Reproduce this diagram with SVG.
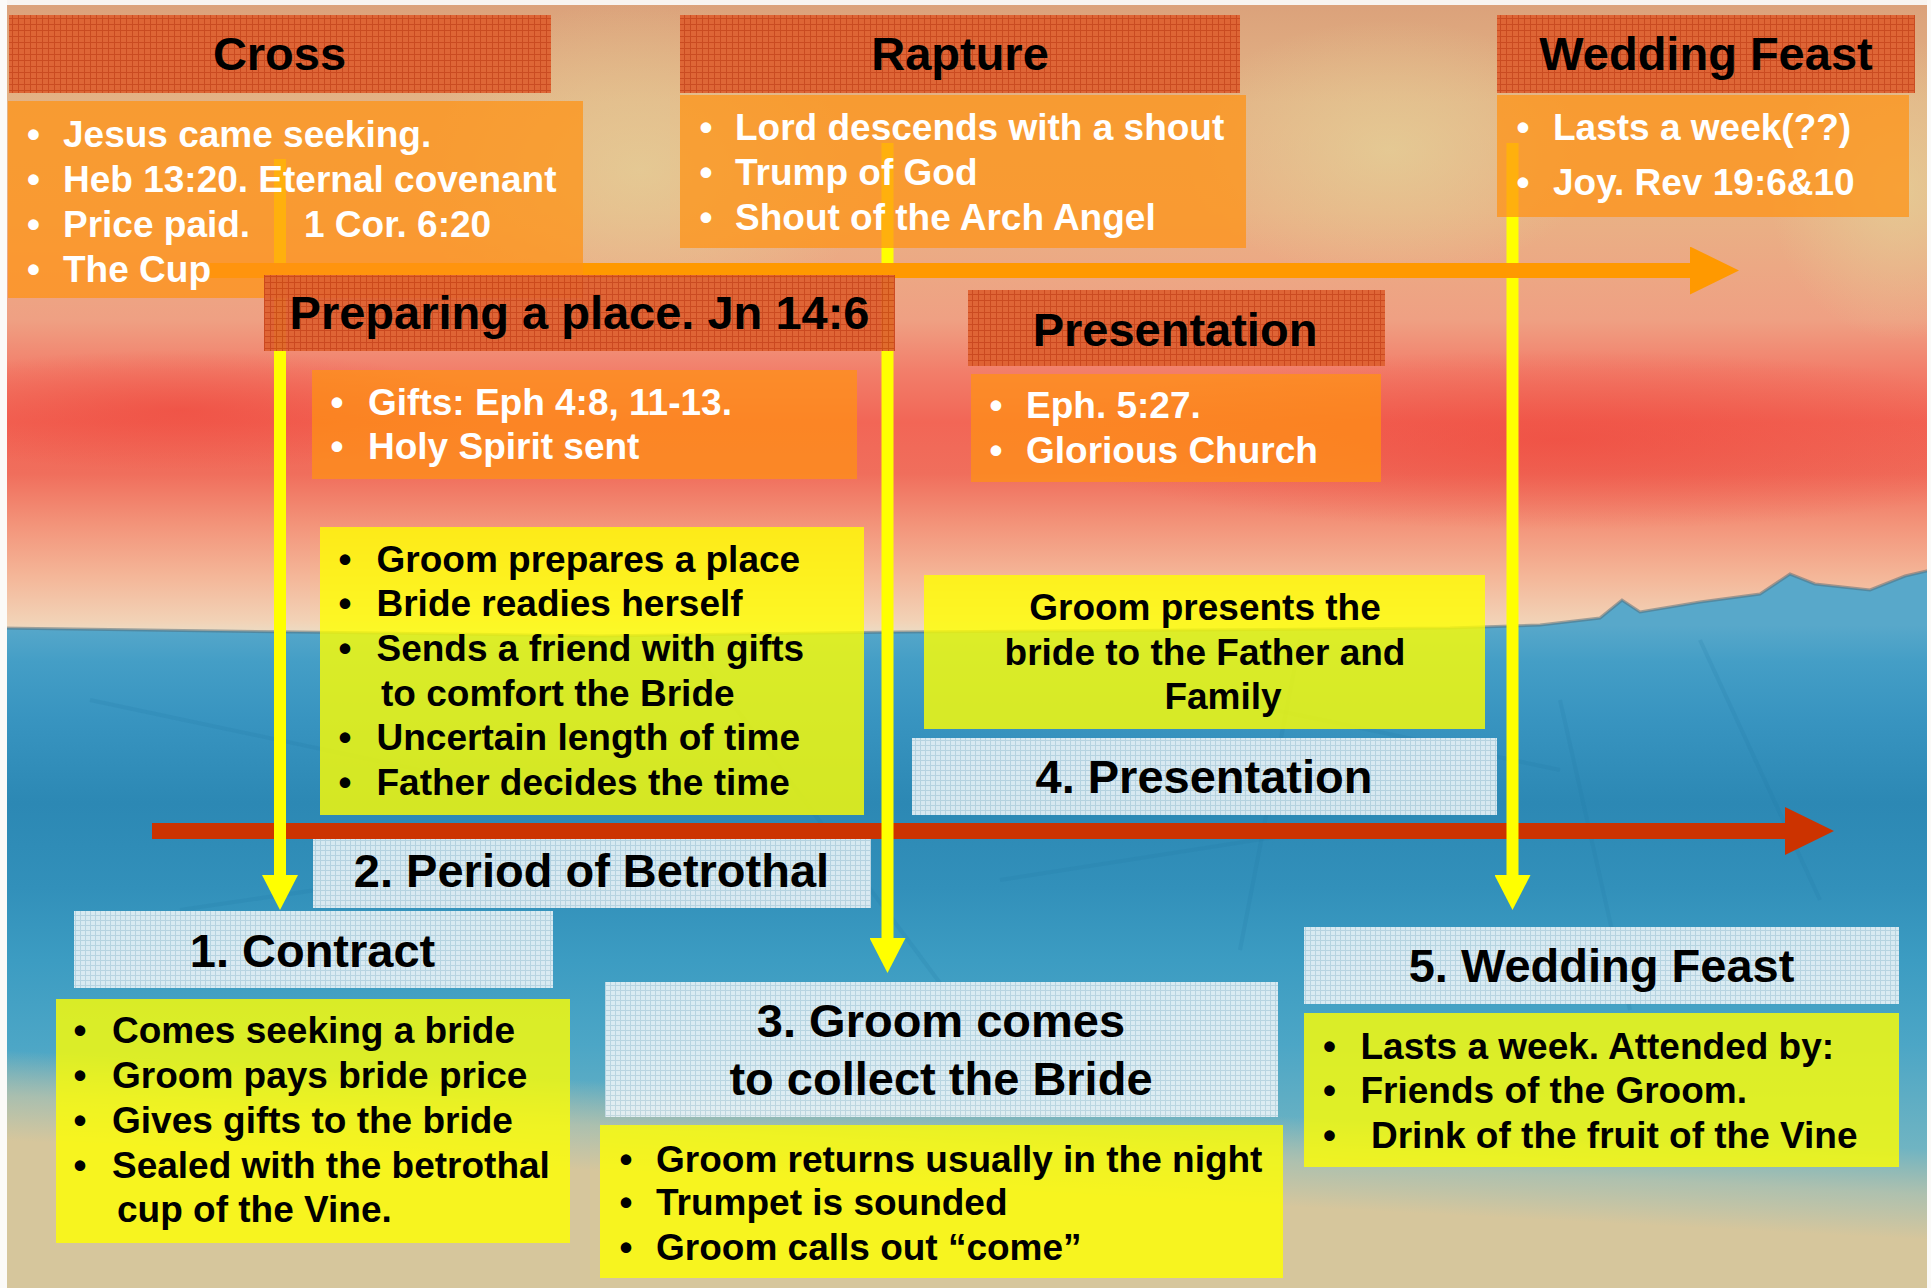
<svg xmlns="http://www.w3.org/2000/svg" width="1931" height="1288" viewBox="0 0 1931 1288">
<defs>
<style>
.t{font-family:"Liberation Sans",Arial,Helvetica,sans-serif;font-weight:bold}
.h{font-size:47px;text-anchor:middle;fill:#000}
.w{font-size:37px;fill:#fff}
.k{font-size:37px;fill:#000}
.kc{font-size:37px;fill:#000;text-anchor:middle}
.hdr{fill:url(#pHdr);opacity:.93}
.obox{fill:#FF9212;fill-opacity:.72}
.ybox{fill:#FFFF00;fill-opacity:.8}
.lbox{fill:url(#pLbl);opacity:.9}
.ys{stroke:#FFFF00;stroke-width:12;fill:none;marker-end:url(#mY)}
</style>
<pattern id="pHdr" width="6" height="6" patternUnits="userSpaceOnUse">
<rect width="6" height="6" fill="#DE6030"/>
<path d="M0 .5H6M.5 0V6" stroke="#C8441A" stroke-width="1"/>
</pattern>
<pattern id="pLbl" width="5" height="5" patternUnits="userSpaceOnUse">
<rect width="5" height="5" fill="#EAF3F7"/>
<path d="M0 .5H5M.5 0V5" stroke="#C4DAE4" stroke-width="1"/>
</pattern>
<linearGradient id="gSky" x1="0" y1="0" x2="0" y2="640" gradientUnits="userSpaceOnUse">
<stop offset="0" stop-color="#DBA17A"/>
<stop offset="0.16" stop-color="#E3B386"/>
<stop offset="0.33" stop-color="#E9B185"/>
<stop offset="0.5" stop-color="#EFA083"/>
<stop offset="0.58" stop-color="#F27E6A"/>
<stop offset="0.66" stop-color="#F26656"/>
<stop offset="0.74" stop-color="#F06E5C"/>
<stop offset="0.82" stop-color="#F3947A"/>
<stop offset="0.9" stop-color="#F4B698"/>
<stop offset="0.97" stop-color="#F2D2B6"/>
<stop offset="1" stop-color="#E8E2CC"/>
</linearGradient>
<linearGradient id="gSea" x1="0" y1="625" x2="0" y2="1150" gradientUnits="userSpaceOnUse">
<stop offset="0" stop-color="#58A8CA"/>
<stop offset="0.07" stop-color="#449EC6"/>
<stop offset="0.18" stop-color="#3894C0"/>
<stop offset="0.34" stop-color="#2C88B4"/>
<stop offset="0.5" stop-color="#3290BA"/>
<stop offset="0.64" stop-color="#3C9CC2"/>
<stop offset="0.8" stop-color="#4CA6C6"/>
<stop offset="1" stop-color="#70B4C2"/>
</linearGradient>
<linearGradient id="gSand" x1="0" y1="1050" x2="-4.65" y2="1140" gradientUnits="userSpaceOnUse">
<stop offset="0" stop-color="#CFC6A2" stop-opacity="0"/>
<stop offset="0.5" stop-color="#C9C6A6" stop-opacity="0.7"/>
<stop offset="1" stop-color="#D6C69C" stop-opacity="1"/>
</linearGradient>
<radialGradient id="gGlow">
<stop offset="0" stop-color="#E4D098" stop-opacity="0.75"/>
<stop offset="1" stop-color="#E4D098" stop-opacity="0"/>
</radialGradient>
<radialGradient id="gRed">
<stop offset="0" stop-color="#EE4238" stop-opacity="0.55"/>
<stop offset="1" stop-color="#EE4238" stop-opacity="0"/>
</radialGradient>
<marker id="mY" viewBox="0 -18 35 36" refX="0" refY="0" markerWidth="35" markerHeight="36" markerUnits="userSpaceOnUse" orient="auto">
<path d="M0-18L35 0L0 18Z" fill="#FFFF00"/>
</marker>
<marker id="mO" viewBox="0 -24 49 48" refX="0" refY="0" markerWidth="49" markerHeight="48" markerUnits="userSpaceOnUse" orient="auto">
<path d="M0-24L49 0L0 24Z" fill="#FF9900"/>
</marker>
<marker id="mR" viewBox="0 -24 49 48" refX="0" refY="0" markerWidth="49" markerHeight="48" markerUnits="userSpaceOnUse" orient="auto">
<path d="M0-24L49 0L0 24Z" fill="#CC3300"/>
</marker>
</defs>

<g id="background">
<rect width="1931" height="1288" fill="url(#gSky)"/>
<ellipse cx="640" cy="170" rx="230" ry="170" fill="url(#gGlow)"/>
<ellipse cx="1390" cy="150" rx="210" ry="130" fill="url(#gGlow)"/>
<ellipse cx="1900" cy="190" rx="130" ry="150" fill="url(#gGlow)"/>
<ellipse cx="1560" cy="440" rx="520" ry="90" fill="url(#gRed)"/>
<ellipse cx="180" cy="410" rx="320" ry="60" fill="url(#gRed)"/>
<path d="M0 628L300 632L600 636L900 632L1200 630L1450 628L1540 625L1600 618L1622 600L1640 612L1700 602L1760 594L1790 574L1815 584L1870 590L1905 576L1931 570V1288H0Z" fill="url(#gSea)"/>
<g stroke="#22779F" stroke-opacity=".16" stroke-width="4" fill="none">
<path d="M90 700L420 770"/>
<path d="M700 660L960 1010"/>
<path d="M1180 690L1560 770"/>
<path d="M1000 880L1320 830"/>
<path d="M1560 700L1630 1010"/>
<path d="M1700 640L1820 900"/>
<path d="M180 910L520 860"/>
<path d="M1300 640L1240 950"/>
</g>
<path d="M0 628L300 632L600 636L900 632L1200 630L1450 628L1540 625L1600 618L1622 600L1640 612L1700 602L1760 594L1790 574L1815 584L1870 590L1905 576L1931 570" fill="none" stroke="#4E6A78" stroke-opacity=".5" stroke-width="3"/>
<path d="M0 1040L1931 1140V1288H0Z" fill="url(#gSand)"/>
<rect x="0" y="0" width="1931" height="5" fill="#F8F4F0"/>
<rect x="0" y="0" width="7" height="1288" fill="#FBFAF8"/>
<rect x="1927" y="0" width="4" height="1288" fill="#FBFAF8"/>
</g>

<g id="connectors">
<path id="timeline-betrothal" d="M152 831H1785" stroke="#CC3300" stroke-width="16" fill="none" marker-end="url(#mR)"/>
<path id="arrow-contract" class="ys" d="M280 159V875"/>
<path id="arrow-groom-comes" class="ys" d="M887.5 143V938"/>
<path id="arrow-wedding-feast" class="ys" d="M1512.5 143V875"/>
<path id="timeline-church" d="M210 270.5H1690" stroke="#FF9900" stroke-width="15" fill="none" marker-end="url(#mO)"/>
</g>

<g id="cross-header"><rect class="hdr" x="9" y="15" width="542" height="78"/><text class="t h" x="279.5" y="70">Cross</text></g>
<g id="cross-points"><rect class="obox" x="8" y="101" width="575" height="197"/>
<text class="t w" y="147"><tspan x="27">•</tspan><tspan x="63">Jesus came seeking.</tspan></text>
<text class="t w" y="192"><tspan x="27">•</tspan><tspan x="63">Heb 13:20. Eternal covenant</tspan></text>
<text class="t w" y="237"><tspan x="27">•</tspan><tspan x="63">Price paid.</tspan><tspan x="304">1 Cor. 6:20</tspan></text>
<text class="t w" y="282"><tspan x="27">•</tspan><tspan x="63">The Cup</tspan></text>
</g>

<g id="rapture-header"><rect class="hdr" x="680" y="15" width="560" height="78"/><text class="t h" x="960" y="70">Rapture</text></g>
<g id="rapture-points"><rect class="obox" x="680" y="95" width="566" height="153"/>
<text class="t w" y="140"><tspan x="699.5">•</tspan><tspan x="735">Lord descends with a shout</tspan></text>
<text class="t w" y="185"><tspan x="699.5">•</tspan><tspan x="735">Trump of God</tspan></text>
<text class="t w" y="230"><tspan x="699.5">•</tspan><tspan x="735">Shout of the Arch Angel</tspan></text>
</g>

<g id="feast-header"><rect class="hdr" x="1497" y="15" width="418" height="78"/><text class="t h" x="1706" y="70">Wedding Feast</text></g>
<g id="feast-points"><rect class="obox" x="1497" y="95" width="412" height="122"/>
<text class="t w" y="140"><tspan x="1516.5">•</tspan><tspan x="1553">Lasts a week(??)</tspan></text>
<text class="t w" y="195"><tspan x="1516.5">•</tspan><tspan x="1553">Joy. Rev 19:6&amp;10</tspan></text>
</g>

<g id="preparing-header"><rect class="hdr" x="264" y="275" width="631" height="76"/><text class="t h" x="579.5" y="329">Preparing a place. Jn 14:6</text></g>
<g id="preparing-points"><rect class="obox" x="312" y="370" width="545" height="109"/>
<text class="t w" y="415"><tspan x="330.5">•</tspan><tspan x="368">Gifts: Eph 4:8, 11-13.</tspan></text>
<text class="t w" y="459"><tspan x="330.5">•</tspan><tspan x="368">Holy Spirit sent</tspan></text>
</g>

<g id="presentation-header"><rect class="hdr" x="968" y="290" width="417" height="76"/><text class="t h" x="1175" y="346">Presentation</text></g>
<g id="presentation-points"><rect class="obox" x="971" y="374" width="410" height="108"/>
<text class="t w" y="418"><tspan x="989.5">•</tspan><tspan x="1026">Eph. 5:27.</tspan></text>
<text class="t w" y="463"><tspan x="989.5">•</tspan><tspan x="1026">Glorious Church</tspan></text>
</g>

<g id="betrothal-points"><rect class="ybox" x="320" y="527" width="544" height="288"/>
<text class="t k" y="572"><tspan x="338.5">•</tspan><tspan x="376.5">Groom prepares a place</tspan></text>
<text class="t k" y="616"><tspan x="338.5">•</tspan><tspan x="376.5">Bride readies herself</tspan></text>
<text class="t k" y="661"><tspan x="338.5">•</tspan><tspan x="376.5">Sends a friend with gifts</tspan></text>
<text class="t k" x="381" y="706">to comfort the Bride</text>
<text class="t k" y="750"><tspan x="338.5">•</tspan><tspan x="376.5">Uncertain length of time</tspan></text>
<text class="t k" y="795"><tspan x="338.5">•</tspan><tspan x="376.5">Father decides the time</tspan></text>
</g>

<g id="presentation-desc"><rect class="ybox" x="924" y="575" width="561" height="154"/>
<text class="t kc" x="1205" y="620">Groom presents the</text>
<text class="t kc" x="1205" y="665">bride to the Father and</text>
<text class="t kc" x="1223" y="709">Family</text>
</g>

<g id="step4"><rect class="lbox" x="912" y="738" width="585" height="77"/><text class="t h" x="1204" y="793">4. Presentation</text></g>
<g id="step2"><rect class="lbox" x="313" y="839" width="558" height="69"/><text class="t h" x="591.5" y="887">2. Period of Betrothal</text></g>
<g id="step1"><rect class="lbox" x="74" y="911" width="479" height="77"/><text class="t h" x="312.5" y="967">1. Contract</text></g>

<g id="contract-points"><rect class="ybox" x="56" y="999" width="514" height="244"/>
<text class="t k" y="1043"><tspan x="73.5">•</tspan><tspan x="112">Comes seeking a bride</tspan></text>
<text class="t k" y="1088"><tspan x="73.5">•</tspan><tspan x="112">Groom pays bride price</tspan></text>
<text class="t k" y="1133"><tspan x="73.5">•</tspan><tspan x="112">Gives gifts to the bride</tspan></text>
<text class="t k" y="1178"><tspan x="73.5">•</tspan><tspan x="112">Sealed with the betrothal</tspan></text>
<text class="t k" x="117" y="1222">cup of the Vine.</text>
</g>

<g id="step3"><rect class="lbox" x="605" y="982" width="673" height="135"/>
<text class="t h" x="941" y="1037">3. Groom comes</text>
<text class="t h" x="941" y="1095">to collect the Bride</text>
</g>
<g id="groom-comes-points"><rect class="ybox" x="600" y="1125" width="683" height="153"/>
<text class="t k" y="1172"><tspan x="619.5">•</tspan><tspan x="656">Groom returns usually in the night</tspan></text>
<text class="t k" y="1215"><tspan x="619.5">•</tspan><tspan x="656">Trumpet is sounded</tspan></text>
<text class="t k" y="1260"><tspan x="619.5">•</tspan><tspan x="656">Groom calls out “come”</tspan></text>
</g>

<g id="step5"><rect class="lbox" x="1304" y="927" width="595" height="77"/><text class="t h" x="1601.5" y="982">5. Wedding Feast</text></g>
<g id="feast-desc"><rect class="ybox" x="1304" y="1013" width="595" height="154"/>
<text class="t k" y="1059"><tspan x="1323">•</tspan><tspan x="1360.5">Lasts a week. Attended by:</tspan></text>
<text class="t k" y="1103"><tspan x="1323">•</tspan><tspan x="1360.5">Friends of the Groom.</tspan></text>
<text class="t k" y="1148"><tspan x="1323">•</tspan><tspan x="1371">Drink of the fruit of the Vine</tspan></text>
</g>
</svg>
